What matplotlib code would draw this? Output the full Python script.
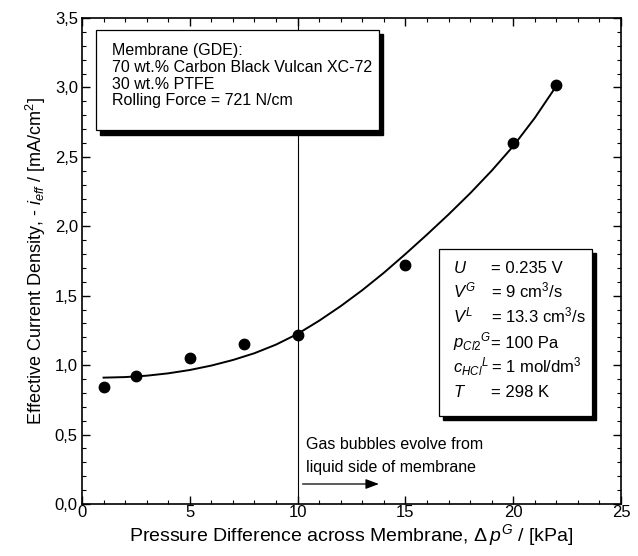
import numpy as np
import matplotlib
matplotlib.use("Agg")
import matplotlib.pyplot as plt
from matplotlib.patches import Rectangle, FancyArrowPatch
from matplotlib.ticker import MultipleLocator, FixedLocator, FixedFormatter

plt.rcParams['font.family'] = ['Liberation Sans', 'DejaVu Sans']
plt.rcParams['mathtext.fontset'] = 'custom'
plt.rcParams['mathtext.rm'] = 'Liberation Sans'
plt.rcParams['mathtext.it'] = 'Liberation Sans:italic'

# measured points
dp_meas = [1.0, 2.5, 5.0, 7.5, 10.0, 15.0, 20.0, 22.0]
i_meas = [0.84, 0.92, 1.055, 1.155, 1.215, 1.72, 2.60, 3.02]

# fitted curve
dp_fit = [1, 2, 3, 4, 5, 6, 7, 8, 9, 10, 11, 12, 13, 14, 15, 16, 17, 18, 19, 20, 21, 22]
i_fit = [0.91, 0.914, 0.924, 0.941, 0.965, 0.997, 1.037, 1.086, 1.148, 1.225, 1.32,
         1.425, 1.54, 1.665, 1.80, 1.94, 2.085, 2.237, 2.40, 2.577, 2.78, 3.01]

y_ticks = [0.0, 0.5, 1.0, 1.5, 2.0, 2.5, 3.0, 3.5]
y_ticklabels = ["0,0", "0,5", "1,0", "1,5", "2,0", "2,5", "3,0", "3,5"]
x_ticks = [0, 5, 10, 15, 20, 25]

box1_lines = ["Membrane (GDE):",
              "70 wt.% Carbon Black Vulcan XC-72",
              "30 wt.% PTFE",
              "Rolling Force = 721 N/cm"]
box2_names = [r"$U$", r"$V^G$", r"$V^L$", r"$p_{Cl2}{}^{G}$", r"$c_{HCl}{}^{L}$", r"$T$"]
box2_values = ["= 0.235 V", "= 9 cm$^3$/s", "= 13.3 cm$^3$/s", "= 100 Pa",
               "= 1 mol/dm$^3$", "= 298 K"]

fig = plt.figure(figsize=(6.38, 5.56), dpi=100)
ax = fig.add_axes([82/638, 1 - 504/556, (621-82)/638, (504-18)/556])

ax.axvline(10, color='black', lw=0.8, zorder=1)
ax.plot(dp_fit, i_fit, '-', color='black', lw=1.4, zorder=3)
ax.plot(dp_meas, i_meas, 'o', color='black', ms=7.5, zorder=4)

ax.set_xlim(0, 25)
ax.set_ylim(0, 3.5)
ax.xaxis.set_major_locator(FixedLocator(x_ticks))
ax.xaxis.set_minor_locator(MultipleLocator(1))
ax.yaxis.set_major_locator(FixedLocator(y_ticks))
ax.yaxis.set_major_formatter(FixedFormatter(y_ticklabels))
ax.yaxis.set_minor_locator(MultipleLocator(0.1))
ax.tick_params(which='both', direction='in', top=True, right=True, labelsize=12)
ax.tick_params(which='major', length=6, width=1.0)
ax.tick_params(which='minor', length=3, width=0.8)
ax.tick_params(axis='x', pad=1)
ax.tick_params(axis='y', pad=3)
for s in ax.spines.values():
    s.set_linewidth(1.2)

ax.set_xlabel(r"Pressure Difference across Membrane, $\Delta\, p^G$ / [kPa]", fontsize=14, labelpad=1)
ax.set_ylabel(r"Effective Current Density, - $i_{eff}$ / [mA/cm$^2$]", fontsize=13, labelpad=5)

# text box 1 (top left) with shadow
sx, sy = 0.2, 0.03
ax.add_patch(Rectangle((0.65 + sx, 2.69 - sy), 13.12, 0.727, facecolor='black',
                       edgecolor='black', zorder=5))
ax.add_patch(Rectangle((0.65, 2.69), 13.12, 0.727, facecolor='white',
                       edgecolor='black', lw=0.9, zorder=6))
for k, line in enumerate(box1_lines):
    ax.text(1.39, 3.23 - 0.12 * k, line, fontsize=11.5, va='baseline', ha='left', zorder=7)

# text box 2 (right) with shadow
ax.add_patch(Rectangle((16.56 + sx, 0.633 - sy), 7.09, 1.202, facecolor='black',
                       edgecolor='black', zorder=5))
ax.add_patch(Rectangle((16.56, 0.633), 7.09, 1.202, facecolor='white',
                       edgecolor='black', lw=0.9, zorder=6))
for k, (n, v) in enumerate(zip(box2_names, box2_values)):
    yb = 1.667 - 0.18 * k
    ax.text(17.19, yb, n, fontsize=12, va='baseline', ha='left', zorder=7)
    ax.text(18.97, yb, v, fontsize=12, va='baseline', ha='left', zorder=7)

# annotation with arrow
ax.text(10.4, 0.393, "Gas bubbles evolve from", fontsize=11.5, va='baseline', ha='left')
ax.text(10.4, 0.232, "liquid side of membrane", fontsize=11.5, va='baseline', ha='left')
ax.add_patch(FancyArrowPatch((10.1, 0.144), (13.9, 0.144), arrowstyle='-|>,head_length=8,head_width=3',
                             color='black', lw=0.9, mutation_scale=1))

fig.savefig("out.png", dpi=100)
